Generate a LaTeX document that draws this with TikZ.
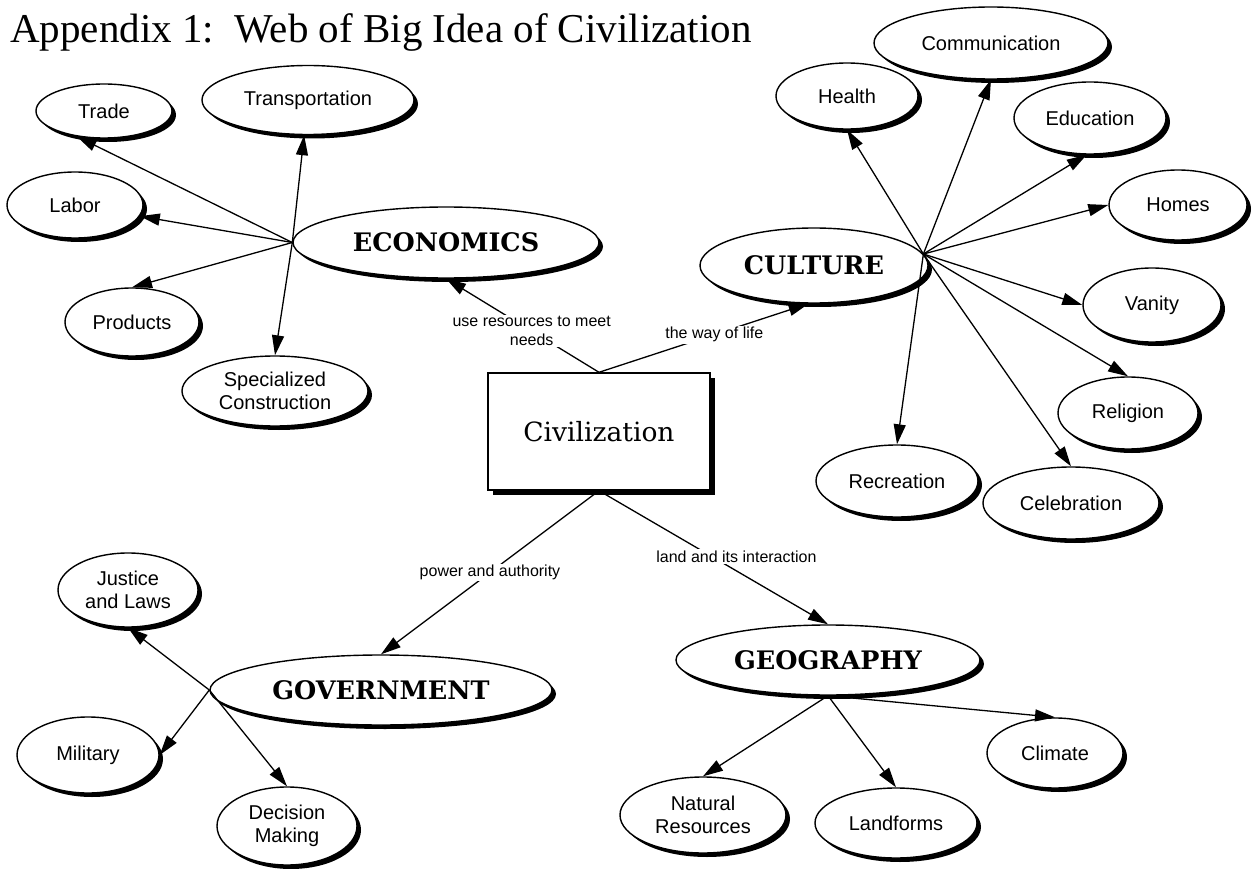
\documentclass[tikz,border=0pt]{standalone}
\usepackage{fontspec}
\setmainfont{Liberation Sans}
\newfontfamily\titlefont{Liberation Serif}
\newfontfamily\headfont{DejaVu Serif}
\usetikzlibrary{shapes.geometric,arrows.meta,shadows}

\begin{document}
\begin{tikzpicture}[x=1pt,y=-1pt,
  sz/.style 2 args={minimum width=#1pt, minimum height=#2pt},
  bubble/.style={ellipse, draw, line width=1.4pt, fill=white, inner sep=0pt,
    align=center, font=\fontsize{20}{23}\selectfont,
    drop shadow={shadow xshift=4pt, shadow yshift=-4pt, fill=black, opacity=1}},
  topic/.style={bubble, font=\headfont\bfseries\fontsize{25.5}{30}\selectfont},
  hubbox/.style={rectangle, draw, line width=1.4pt, fill=white,
    font=\headfont\fontsize{26.5}{30}\selectfont,
    drop shadow={shadow xshift=5pt, shadow yshift=-5pt, fill=black, opacity=1}},
  link/.style={line width=1.3pt, -{Triangle[length=20pt,width=12pt]}},
  lbl/.style={fill=white, inner sep=1.5pt, align=center,
    font=\fontsize{16}{19}\selectfont}
]
\useasboundingbox (0,0) rectangle (1254,869);

% heading
\node[anchor=base west, inner sep=0pt, font=\titlefont\fontsize{41}{48}\selectfont]
  (title) at (10,43) {Appendix 1:\ \ Web of Big Idea of Civilization};

% centre
\node[hubbox, sz={222}{117}] (civ) at (599,431.5) {Civilization};

% four big ideas
\node[topic, sz={306}{71}] (eco) at (446,242.5) {ECONOMICS};
\node[topic, sz={228}{75}] (cul) at (814,265.5) {CULTURE};
\node[topic, sz={342}{70}] (gov) at (381,690) {GOVERNMENT};
\node[topic, sz={304}{70}] (geo) at (828,660) {GEOGRAPHY};

% economics
\node[bubble, sz={136}{54}] (trade) at (104,111) {Trade};
\node[bubble, sz={212}{69}] (trans) at (308,100) {Transportation};
\node[bubble, sz={136}{66}] (labor) at (75,205) {Labor};
\node[bubble, sz={134}{68}] (prod) at (132,322) {Products};
\node[bubble, sz={186}{70}] (spec) at (275,391) {Specialized\\Construction};

% culture
\node[bubble, sz={142}{66}] (health) at (847,96) {Health};
\node[bubble, sz={234}{72}] (comm) at (991,43) {Communication};
\node[bubble, sz={152}{72}] (edu) at (1090,118) {Education};
\node[bubble, sz={138}{70}] (homes) at (1178,205) {Homes};
\node[bubble, sz={138}{74}] (vanity) at (1152,305) {Vanity};
\node[bubble, sz={140}{72}] (relig) at (1128,413) {Religion};
\node[bubble, sz={176}{72}] (celeb) at (1071,503) {Celebration};
\node[bubble, sz={162}{72}] (recr) at (897,481) {Recreation};

% government
\node[bubble, sz={140}{74}] (justice) at (128,590) {Justice\\and Laws};
\node[bubble, sz={142}{76}] (mil) at (88,755) {Military};
\node[bubble, sz={140}{78}] (dec) at (287,826) {Decision\\Making};

% geography
\node[bubble, sz={166}{76}] (natres) at (703,815) {Natural\\Resources};
\node[bubble, sz={162}{70}] (land) at (896,823) {Landforms};
\node[bubble, sz={136}{70}] (clim) at (1055,753) {Climate};

% links from the centre
\draw[link] (civ.north) -- node[lbl, pos=.44] {use resources to meet\\needs} (eco.south);
\draw[link] (civ.north) -- node[lbl, pos=.55] {the way of life} (cul.262);
\draw[link] (civ.south) -- node[lbl, pos=.5] {power and authority} (gov.north);
\draw[link] (civ.south) -- node[lbl, pos=.6, yshift=14pt] {land and its interaction} (geo.north);

% economics spokes
\draw[link] (eco.west) -- (trade.223);
\draw[link] (eco.west) -- (trans);
\draw[link] (eco.west) -- (labor);
\draw[link] (eco.west) -- (prod.north);
\draw[link] (eco.west) -- (spec.north);

% culture spokes
\draw[link] (cul.6) -- (health.south);
\draw[link] (cul.6) -- (comm.south);
\draw[link] (cul.6) -- (edu.-95);
\draw[link] (cul.6) -- (homes.west);
\draw[link] (cul.6) -- (vanity.west);
\draw[link] (cul.6) -- (relig.north);
\draw[link] (cul.6) -- (celeb.north);
\draw[link] (cul.6) -- (recr.north);

% government spokes
\draw[link] (gov.west) -- (justice.south);
\draw[link] (gov.west) -- (mil.east);
\draw[link] (gov.west) -- (dec.north);

% geography spokes
\draw[link] (geo.south) -- (natres.north);
\draw[link] (geo.south) -- (land.north);
\draw[link] (geo.south) -- (clim.north);
\end{tikzpicture}
\end{document}
